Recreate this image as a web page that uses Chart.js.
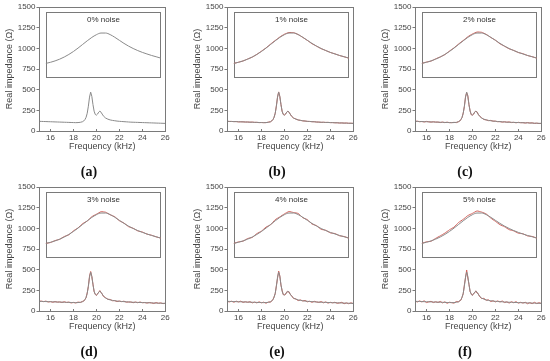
<!DOCTYPE html>
<html><head><meta charset="utf-8">
<script src="https://cdn.jsdelivr.net/npm/chart.js@4"></script>
<style>
html,body{margin:0;padding:0;background:#fff;overflow:hidden;width:550px;height:361px;position:relative}
canvas{position:absolute}
.cap{position:absolute;font:bold 14px "Liberation Serif",serif;color:#111;transform:translate(-50%,-50%);white-space:nowrap}
</style></head><body>
<script>
// ---------- data ----------
const panelLetters = ['(a)','(b)','(c)','(d)','(e)','(f)'];
const noiseLabels = ['0% noise','1% noise','2% noise','3% noise','4% noise','5% noise'];
const xTicks = [16,18,20,22,24,26];
const yTicks = [0,250,500,750,1000,1250,1500];

// main spectrum (kHz)
const freqMain = [15.0,15.2,15.4,15.6,15.8,16.0,16.2,16.4,16.6,16.8,17.0,17.2,17.4,17.6,17.8,18.0,18.2,18.4,18.6,18.8,
  18.9,19.0,19.1,19.2,19.3,19.4,19.5,19.6,19.7,19.8,19.9,20.0,20.1,20.2,20.3,20.4,20.5,20.6,
  20.8,21.0,21.2,21.4,21.6,21.8,22.0,22.2,22.4,22.6,22.8,23.0,23.2,23.4,23.6,23.8,24.0,24.2,24.4,24.6,24.8,25.0,25.2,25.4,25.6,25.8,26.0];
const greyMain = [117,116,115,114,113,112,111,110,109,108,107,106,105,104,103,102,101,102,105,113,
  122,138,165,215,300,410,470,420,320,240,200,192,205,228,240,228,205,183,
  157,143,134,128,124,120,117,115,113,111,109,107,106,105,104,103,102,101,100,99,98,97,96,95,94,93,92];
const redMain1 = [118,115,116,113,115,110,111,111,108,109,106,108,104,105,101,103,101,101,107,112,
  123,137,166,214,303,409,473,416,321,238,202,191,206,226,241,226,206,182,
  156,145,133,129,122,121,116,116,112,113,108,108,104,106,103,105,101,102,99,100,96,98,95,97,93,94,92];
const redMain2 = [116,119,112,115,109,116,111,107,112,107,108,102,108,101,107,101,101,105,101,114,
  120,141,164,218,294,413,464,428,318,243,196,193,202,231,238,233,202,184,
  160,139,135,125,128,119,120,112,114,107,112,106,110,102,105,99,105,100,101,96,102,96,99,91,95,90,92];
const redMain3 = [117,120,113,120,109,114,105,114,107,110,103,112,103,108,97,104,97,108,103,117,
  120,139,160,219,297,422,478,416,326,233,202,188,209,226,247,223,207,178,
  161,141,140,124,126,114,121,113,119,107,109,109,100,109,100,109,100,103,96,103,98,91,102,93,98,89,94];
const redMain4 = [117,110,118,106,119,109,119,104,112,105,113,98,108,98,111,99,107,94,108,107,
  125,136,172,209,304,394,483,426,311,250,197,197,200,231,230,234,202,190,
  151,146,126,134,121,128,111,118,105,117,109,104,114,99,110,95,105,98,106,93,98,105,88,98,88,99,89];
const redMain5 = [121,109,122,110,123,102,111,117,102,112,103,116,98,111,93,106,101,95,115,109,
  126,131,168,208,315,403,496,399,325,232,210,189,212,220,244,217,212,180,
  150,153,130,135,114,124,110,122,109,121,102,111,96,112,100,113,95,105,96,106,88,101,89,105,90,100,92];

// inset curve
const freqInset = [15.6,16.0,16.4,16.8,17.2,17.6,18.0,18.4,18.8,19.2,19.6,20.0,20.4,20.8,21.2,21.6,22.0,22.4,22.8,23.2,23.6,24.0,24.4,24.8,25.2,25.6];
const greyInset = [818,831,848,869,895,926,962,1003,1047,1091,1132,1165,1185,1185,1166,1134,1097,1060,1027,998,973,951,932,914,898,882];
const redInset1 = [818,832,847,871,894,927,966,1005,1052,1095,1137,1171,1191,1190,1167,1132,1096,1056,1026,996,974,950,933,913,898,882];
const redInset2 = [818,834,846,873,896,924,967,1006,1053,1095,1140,1174,1197,1194,1169,1131,1099,1055,1025,994,975,949,935,913,899,882];
const redInset3 = [818,828,852,867,901,922,970,1005,1057,1088,1141,1171,1201,1195,1164,1140,1092,1064,1020,1001,969,956,930,917,897,882];
const redInset4 = [818,836,845,877,890,936,966,1015,1043,1105,1138,1175,1203,1191,1180,1128,1105,1052,1033,988,977,945,937,910,901,882];
const redInset5 = [818,837,844,879,909,942,982,1015,1071,1109,1154,1181,1210,1197,1174,1124,1085,1044,1019,984,969,941,934,908,902,882];

const redMainSets = [null, redMain1, redMain2, redMain3, redMain4, redMain5];
const redInsetSets = [null, redInset1, redInset2, redInset3, redInset4, redInset5];

// ---------- styling / layout ----------
const GREY = '#8a8a8a', RED = '#d2625c', FRAME = '#7a7a7a', TXT = '#454545';
const FONT = '"Liberation Sans", Arial, sans-serif';
const insetBox = {x0: 15.65, x1: 25.57, y0: 650, y1: 1443, labelY: 1343};
const CW = 174, CH = 180;
const lefts = [0, 188, 376];
const tops = [0, 180];

const pts = (xs, ys) => xs.map((x, i) => ({x, y: ys[i]}));

const framePlugin = {
  id: 'frame',
  beforeDatasetsDraw(chart, args, opts) {
    const {ctx, scales: {x, y}} = chart;
    const l = Math.round(x.getPixelForValue(insetBox.x0)) + 0.5;
    const r = Math.round(x.getPixelForValue(insetBox.x1)) + 0.5;
    const t = Math.round(y.getPixelForValue(insetBox.y1)) + 0.5;
    const b = Math.round(y.getPixelForValue(insetBox.y0)) + 0.5;
    ctx.save();
    ctx.strokeStyle = FRAME; ctx.lineWidth = 1;
    ctx.strokeRect(l, t, r - l, b - t);
    ctx.fillStyle = '#333';
    ctx.font = '8px ' + FONT;
    ctx.textAlign = 'center'; ctx.textBaseline = 'middle';
    ctx.fillText(opts.label, (l + r) / 2, y.getPixelForValue(insetBox.labelY));
    ctx.restore();
  },
  afterDraw(chart) {
    const {ctx, chartArea: a, scales: {x}} = chart;
    ctx.save();
    ctx.strokeStyle = FRAME; ctx.lineWidth = 1;
    const L = Math.round(a.left) + 0.5, T = Math.round(a.top) + 0.5;
    const R = Math.round(a.right) + 0.5, B = Math.round(a.bottom) + 0.5;
    ctx.strokeRect(L, T, R - L, B - T);
    xTicks.forEach(v => {
      const px = Math.round(x.getPixelForValue(v)) + 0.5;
      ctx.beginPath(); ctx.moveTo(px, B); ctx.lineTo(px, B - 2.5); ctx.stroke();
    });
    ctx.restore();
  }
};

for (let i = 0; i < 6; i++) {
  const col = i % 3, row = Math.floor(i / 3);
  const cv = document.createElement('canvas');
  cv.width = CW; cv.height = CH;
  cv.style.left = lefts[col] + 'px'; cv.style.top = tops[row] + 'px';
  document.body.appendChild(cv);

  const cap = document.createElement('div');
  cap.className = 'cap';
  cap.textContent = panelLetters[i];
  cap.style.left = (lefts[col] + 89) + 'px';
  cap.style.top = (tops[row] + 171.5) + 'px';
  document.body.appendChild(cap);

  // earlier datasets are drawn on top in Chart.js: grey first, red underneath
  const datasets = [];
  datasets.push({data: pts(freqMain, greyMain), borderColor: GREY});
  datasets.push({data: pts(freqInset, greyInset), borderColor: GREY, cubicInterpolationMode: 'monotone'});
  if (redMainSets[i]) {
    datasets.push({data: pts(freqMain, redMainSets[i]), borderColor: RED});
    datasets.push({data: pts(freqInset, redInsetSets[i]), borderColor: RED, tension: 0.15});
  }
  datasets.forEach(d => { d.borderWidth = 1; d.pointRadius = 0; d.fill = false; });

  new Chart(cv, {
    type: 'line',
    data: {datasets},
    plugins: [framePlugin],
    options: {
      responsive: false, animation: false, devicePixelRatio: 1,
      layout: {padding: {left: 0, right: 8.7, top: 7, bottom: 23}},
      plugins: {legend: {display: false}, tooltip: {enabled: false}, frame: {label: noiseLabels[i]}},
      scales: {
        x: {
          type: 'linear', min: 15, max: 26,
          afterBuildTicks: s => { s.ticks = xTicks.map(v => ({value: v})); },
          afterFit: s => { s.height = 26; s.paddingLeft = 0; s.paddingRight = 0; },
          grid: {display: false, drawTicks: false},
          border: {display: false},
          ticks: {padding: 1.5, color: TXT, font: {family: FONT, size: 8}, maxRotation: 0, autoSkip: false, callback: v => String(v)},
          title: {display: true, text: 'Frequency (kHz)', color: TXT, font: {family: FONT, size: 9}, padding: {top: 0, bottom: 4.6}}
        },
        y: {
          type: 'linear', min: 0, max: 1500,
          afterBuildTicks: s => { s.ticks = yTicks.map(v => ({value: v})); },
          afterFit: s => { s.width = 39; s.paddingTop = 0; s.paddingBottom = 0; },
          grid: {display: true, drawOnChartArea: false, drawTicks: true, tickLength: 2.5, color: FRAME},
          border: {display: false},
          ticks: {padding: 1, color: TXT, font: {family: FONT, size: 8}, autoSkip: false, callback: v => String(v)},
          title: {display: true, text: 'Real impedance (Ω)', color: TXT, font: {family: FONT, size: 9}, padding: {top: 4.5, bottom: 0}}
        }
      }
    }
  });
}
</script>
</body></html>
